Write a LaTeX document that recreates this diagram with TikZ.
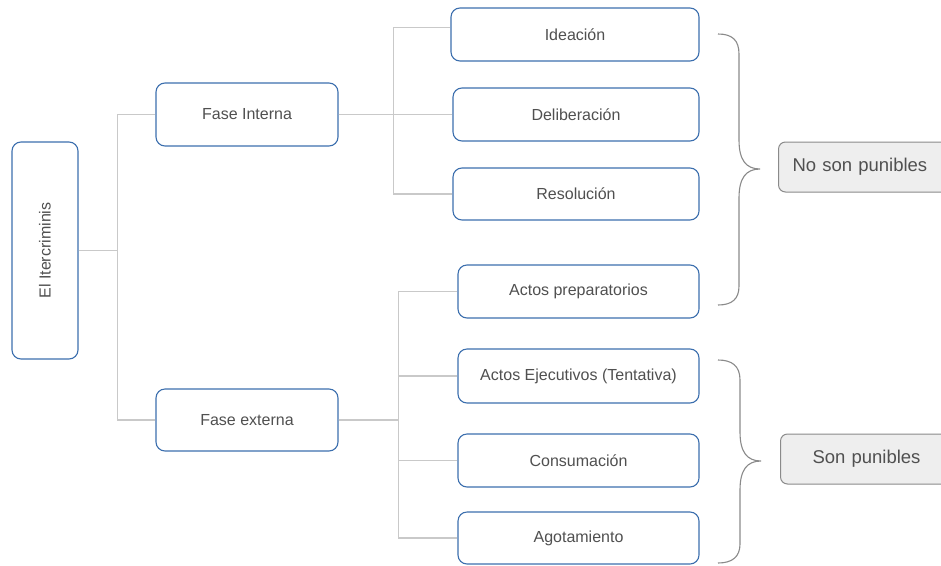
\documentclass[tikz,border=0pt]{standalone}
\usepackage{fontspec}
\setmainfont{Liberation Sans}
\usepackage{xcolor}
\usepackage{tikz}
\usetikzlibrary{positioning}
\definecolor{BoxBlue}{HTML}{3C6FAE}
\definecolor{LinkGray}{HTML}{C9C9C9}
\definecolor{InkGray}{HTML}{505050}
\definecolor{NoteFill}{HTML}{EEEEEE}
\definecolor{NoteLine}{HTML}{8A8A8A}

\begin{document}
\begin{tikzpicture}[x=1pt, y=-1pt,
            stepbox/.style={draw=BoxBlue, line width=1.1pt, rounded corners=9pt, fill=white, text=InkGray, font=\fontsize{16}{19}\selectfont, inner sep=0pt, align=center},
            notebox/.style={draw=NoteLine, line width=1pt, rounded corners=7pt, fill=NoteFill, text=InkGray, font=\fontsize{18.5}{22}\selectfont, inner ysep=0pt, minimum height=50pt, anchor=west, align=left, text width=150pt},
            link/.style={draw=LinkGray, line width=1.2pt},
            bracket/.style={draw=NoteLine, line width=1.1pt}
        ]
            \useasboundingbox (0,0) rectangle (941,565);
            \clip (0,0) rectangle (941,565);

            \node[stepbox, minimum width=66pt, minimum height=217pt] (iter) at (45,250.5) {\rotatebox{90}{El Itercriminis}};
            \node[stepbox, minimum width=182pt, minimum height=63pt] (fint) at (247,114.5) {Fase Interna};
            \node[stepbox, minimum width=182pt, minimum height=62pt] (fext) at (247,420) {Fase externa};

            \node[stepbox, minimum width=248pt, minimum height=53pt] (ide) at (575,34.5) {Ideación};
            \node[stepbox, minimum width=246pt, minimum height=53pt] (del) at (576,114.5) {Deliberación};
            \node[stepbox, minimum width=246pt, minimum height=52pt] (res) at (576,194) {Resolución};
            \node[stepbox, minimum width=241pt, minimum height=53pt] (prep) at (578.5,291.5) {Actos preparatorios};
            \node[stepbox, minimum width=241pt, minimum height=54pt] (ejec) at (578.5,376) {Actos Ejecutivos (Tentativa)};
            \node[stepbox, minimum width=241pt, minimum height=53pt] (cons) at (578.5,460.5) {Consumación};
            \node[stepbox, minimum width=241pt, minimum height=52pt] (agot) at (578.5,538) {Agotamiento};

            \node[notebox, inner xsep=14pt] (nopun) at (778,167) {No son punibles};
            \node[notebox, inner xsep=32pt] (sipun) at (780,459) {Son punibles};

            % trunk
            \draw[link] (iter.east) -- ++(39,0) |- (fint.west);
            \draw[link] (iter.east) -- ++(39,0) |- (fext.west);

            % fase interna
            \draw[link] (fint.east) -- ++(55,0) |- ([yshift=7pt]ide.west);
            \draw[link] (fint.east) -- (del.west);
            \draw[link] (fint.east) -- ++(55,0) |- (res.west);

            % fase externa
            \draw[link] (fext.east) -- ++(60,0) |- (prep.west);
            \draw[link] (fext.east) -- ++(60,0) |- (ejec.west);
            \draw[link] (fext.east) -- ++(60,0) |- (cons.west);
            \draw[link] (fext.east) -- ++(60,0) |- (agot.west);

            % llaves
            \draw[bracket] (718,34) .. controls (732,34) and (739,40) .. (739,54)
                -- (739,140) .. controls (739,160) and (746,169) .. (760,169)
                .. controls (746,169) and (739,178) .. (739,198)
                -- (739,286) .. controls (739,299) and (732,305) .. (718,305);
            \draw[bracket] (718,360) .. controls (732,360) and (740,366) .. (740,380)
                -- (740,432) .. controls (740,452) and (747,461) .. (761,461)
                .. controls (747,461) and (740,470) .. (740,490)
                -- (740,544) .. controls (740,557) and (732,563) .. (718,563);

        \end{tikzpicture}
\end{document}
